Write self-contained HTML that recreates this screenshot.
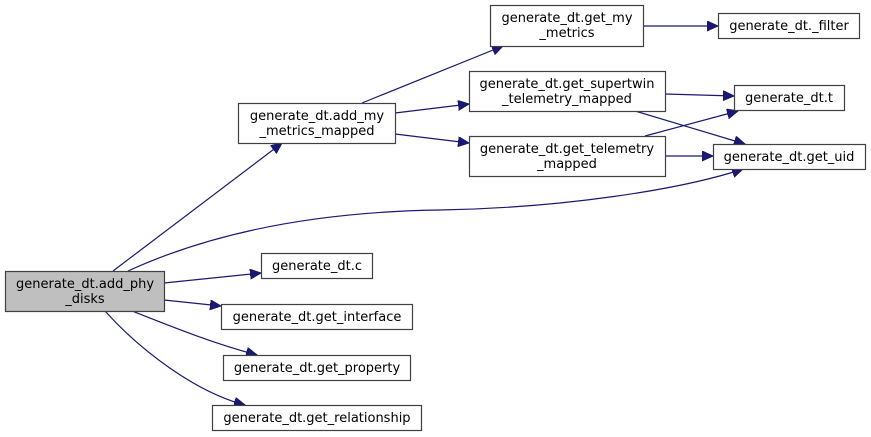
<!DOCTYPE html>
<html><head><meta charset="utf-8"><style>
html,body{margin:0;padding:0;background:#fff;}
svg{display:block;}
text{font-family:"DejaVu Sans","Liberation Sans",sans-serif;font-size:13px;fill:#000;}
rect{stroke:#404040;stroke-width:1.2;fill:#fff;}
path{fill:none;stroke:#191970;stroke-width:1.2;}
</style></head><body>
<svg width="871" height="437" viewBox="0 0 871 437" xmlns="http://www.w3.org/2000/svg">
<defs>
<marker id="a" markerUnits="userSpaceOnUse" markerWidth="14" markerHeight="12" refX="11" refY="5" orient="auto">
<polygon points="0,0 11,5 0,10" fill="#191970" stroke="#191970"/>
</marker>
</defs>
<path d="M113,271 L282,143" marker-end="url(#a)"/>
<path d="M128,271 C200,238 300,212 440,210 C560,208 680,190 743,169" marker-end="url(#a)"/>
<path d="M164,283 L261,273" marker-end="url(#a)"/>
<path d="M164,300 L221,306" marker-end="url(#a)"/>
<path d="M132,311 C175,328 215,344 257,355" marker-end="url(#a)"/>
<path d="M105,311 C140,350 195,392 245,405" marker-end="url(#a)"/>
<path d="M362,103 L503,46" marker-end="url(#a)"/>
<path d="M395,113 L469,104" marker-end="url(#a)"/>
<path d="M395,134 L469,143" marker-end="url(#a)"/>
<path d="M643,26 L718,26" marker-end="url(#a)"/>
<path d="M665,94 L734,96" marker-end="url(#a)"/>
<path d="M635,111 L745,144" marker-end="url(#a)"/>
<path d="M645,136 L738,111" marker-end="url(#a)"/>
<path d="M665,156 L713,156" marker-end="url(#a)"/>

<rect x="5.5" y="271.5" width="159" height="40" style="fill:#bfbfbf"/>
<text x="85" y="288" text-anchor="middle">generate_dt.add_phy</text>
<text x="85" y="303" text-anchor="middle">_disks</text>

<rect x="238.5" y="103.5" width="157" height="40"/>
<text x="317" y="120" text-anchor="middle">generate_dt.add_my</text>
<text x="317" y="135" text-anchor="middle">_metrics_mapped</text>

<rect x="261.5" y="253.5" width="111" height="25"/>
<text x="317" y="270" text-anchor="middle">generate_dt.c</text>

<rect x="221.5" y="304.5" width="191" height="25"/>
<text x="317" y="321" text-anchor="middle">generate_dt.get_interface</text>

<rect x="223.5" y="355.5" width="187" height="25"/>
<text x="317" y="372" text-anchor="middle">generate_dt.get_property</text>

<rect x="212.5" y="405.5" width="209" height="25"/>
<text x="317" y="422" text-anchor="middle">generate_dt.get_relationship</text>

<rect x="490.5" y="5.5" width="153" height="41"/>
<text x="567" y="22" text-anchor="middle">generate_dt.get_my</text>
<text x="567" y="37" text-anchor="middle">_metrics</text>

<rect x="718.5" y="13.5" width="141" height="25"/>
<text x="789" y="30" text-anchor="middle">generate_dt._filter</text>

<rect x="469.5" y="71.5" width="196" height="40"/>
<text x="567" y="88" text-anchor="middle">generate_dt.get_supertwin</text>
<text x="567" y="103" text-anchor="middle">_telemetry_mapped</text>

<rect x="469.5" y="136.5" width="196" height="40"/>
<text x="567" y="153" text-anchor="middle">generate_dt.get_telemetry</text>
<text x="567" y="168" text-anchor="middle">_mapped</text>

<rect x="734.5" y="85.5" width="110" height="25"/>
<text x="789" y="102" text-anchor="middle">generate_dt.t</text>

<rect x="713.5" y="144.5" width="152" height="25"/>
<text x="789" y="161" text-anchor="middle">generate_dt.get_uid</text>
</svg>
</body></html>
